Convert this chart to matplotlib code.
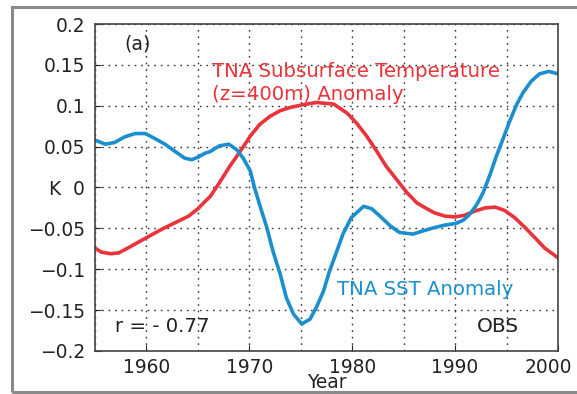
import matplotlib.pyplot as plt
from matplotlib.patches import Rectangle
from matplotlib.transforms import ScaledTranslation
import numpy as np

plt.rcParams['font.family'] = ['DejaVu Sans']

# TNA SST anomaly (blue)
sst_year = [1955, 1956, 1956.9, 1957.9, 1958.9, 1959.9, 1960.8, 1961.8, 1962.8, 1963.7,
            1964.4, 1965, 1965.7, 1966.2, 1967.1, 1968, 1968.8, 1969.4, 1970.1, 1970.5,
            1971, 1971.7, 1972.3, 1973, 1973.6, 1974.3, 1975.1, 1975.9, 1976.5, 1977.2,
            1977.8, 1978.5, 1979.1, 1979.9, 1981.1, 1981.9, 1982.7, 1983.7, 1984.6, 1985.9,
            1986.9, 1988, 1989, 1990.05, 1990.8, 1991.4, 1992.1, 1992.7, 1993.4, 1994,
            1994.7, 1995.3, 1996, 1996.6, 1997.4, 1998.2, 1999.1, 2000]
sst_val = [0.058, 0.053, 0.055, 0.062, 0.066, 0.066, 0.060, 0.053, 0.044, 0.036,
           0.034, 0.037, 0.042, 0.044, 0.051, 0.053, 0.046, 0.036, 0.020, 0.000,
           -0.021, -0.049, -0.078, -0.106, -0.135, -0.155, -0.167, -0.161, -0.147, -0.127,
           -0.102, -0.078, -0.057, -0.037, -0.023, -0.026, -0.035, -0.047, -0.055, -0.057,
           -0.053, -0.049, -0.046, -0.044, -0.040, -0.033, -0.021, -0.007, 0.016, 0.038,
           0.061, 0.081, 0.102, 0.116, 0.130, 0.139, 0.142, 0.139]

# TNA subsurface temperature (z=400m) anomaly (red)
sub_year = [1955, 1955.6, 1956.5, 1957.3, 1958.2, 1959.2, 1960.2, 1961.5, 1962.8, 1964.1,
            1965, 1965.7, 1966.2, 1967.1, 1968.1, 1969.1, 1970.1, 1971, 1972, 1973,
            1974, 1975.1, 1976.5, 1978.2, 1979.5, 1980.4, 1981.4, 1982.4, 1983.3, 1984.3,
            1985.3, 1986.3, 1987.4, 1988, 1989, 1990, 1990.9, 1991.9, 1992.9, 1993.9,
            1994.8, 1995.8, 1996.8, 1997.8, 1998.7, 2000]
sub_val = [-0.074, -0.079, -0.081, -0.080, -0.074, -0.067, -0.060, -0.051, -0.043, -0.035,
           -0.026, -0.017, -0.011, 0.006, 0.026, 0.044, 0.063, 0.077, 0.087, 0.094,
           0.098, 0.101, 0.104, 0.102, 0.091, 0.079, 0.063, 0.044, 0.026, 0.010,
           -0.006, -0.019, -0.027, -0.031, -0.035, -0.036, -0.034, -0.029, -0.025, -0.024,
           -0.028, -0.037, -0.049, -0.062, -0.074, -0.086]

yticks = [0.2, 0.15, 0.1, 0.05, 0, -0.05, -0.1, -0.15, -0.2]
ytick_labels = ['0.2', '0.15', '0.1', '0.05', 'K  0', '\u22120.05', '\u22120.1', '\u22120.15', '\u22120.2']
xticks = [1960, 1970, 1980, 1990, 2000]

red = '#e8343a'
blue = '#1b8fcd'
ink = '#222222'

fig = plt.figure(figsize=(5.77, 3.94), dpi=100)
ax = fig.add_axes([95/577, 1 - 351/394, (558-95)/577, (351-24)/394])

ax.plot(sub_year, sub_val, color=red, lw=2.6, solid_capstyle='round', solid_joinstyle='round')
ax.plot(sst_year, sst_val, color=blue, lw=2.6, solid_capstyle='round', solid_joinstyle='round')

ax.set_xlim(1955, 2000)
ax.set_ylim(-0.2, 0.2)
ax.set_xticks(xticks)
ax.set_xticks(np.arange(1955, 2001, 5), minor=True)
ax.set_yticks(yticks)
ax.set_yticklabels(ytick_labels)
ax.tick_params(which='both', direction='in', length=4, labelsize=13.4, colors=ink, pad=7)
ax.tick_params(which='minor', length=0)
ax.tick_params(axis='x', pad=5)
ax.grid(True, which='both', ls=(0, (1.2, 3.5)), color='#333333', lw=1)
for s in ax.spines.values():
    s.set_color('#444444')
    s.set_linewidth(1.2)

# the last year label sits a little left of its tick, as in the original
last = ax.get_xticklabels()[-1]
last.set_transform(last.get_transform() + ScaledTranslation(-7/72, 0, fig.dpi_scale_trans))

ax.text(0.5, -0.113, 'Year', transform=ax.transAxes, fontsize=13.4, color=ink,
        ha='center', va='baseline')

ax.text(1959.1, 0.176, '(a)', fontsize=13.6, color=ink, va='center', ha='center')
ax.text(1966.4, 0.1357, 'TNA Subsurface Temperature', fontsize=14.2, color=red, va='baseline')
ax.text(1966.4, 0.1076, '(z=400m) Anomaly', fontsize=14.2, color=red, va='baseline')
ax.text(1978.5, -0.131, 'TNA SST Anomaly', fontsize=14.2, color=blue, va='baseline')
ax.text(1956.9, -0.177, 'r = - 0.77', fontsize=14.2, color=ink, va='baseline')
ax.text(1992.1, -0.177, 'OBS', fontsize=14.5, color=ink, va='baseline')

fig.patches.append(Rectangle((12/577, 2/394), 1.2, 385/394, transform=fig.transFigure,
                             fill=False, edgecolor='#8a8a8a', lw=2.2))

fig.savefig('out.png', dpi=100)
